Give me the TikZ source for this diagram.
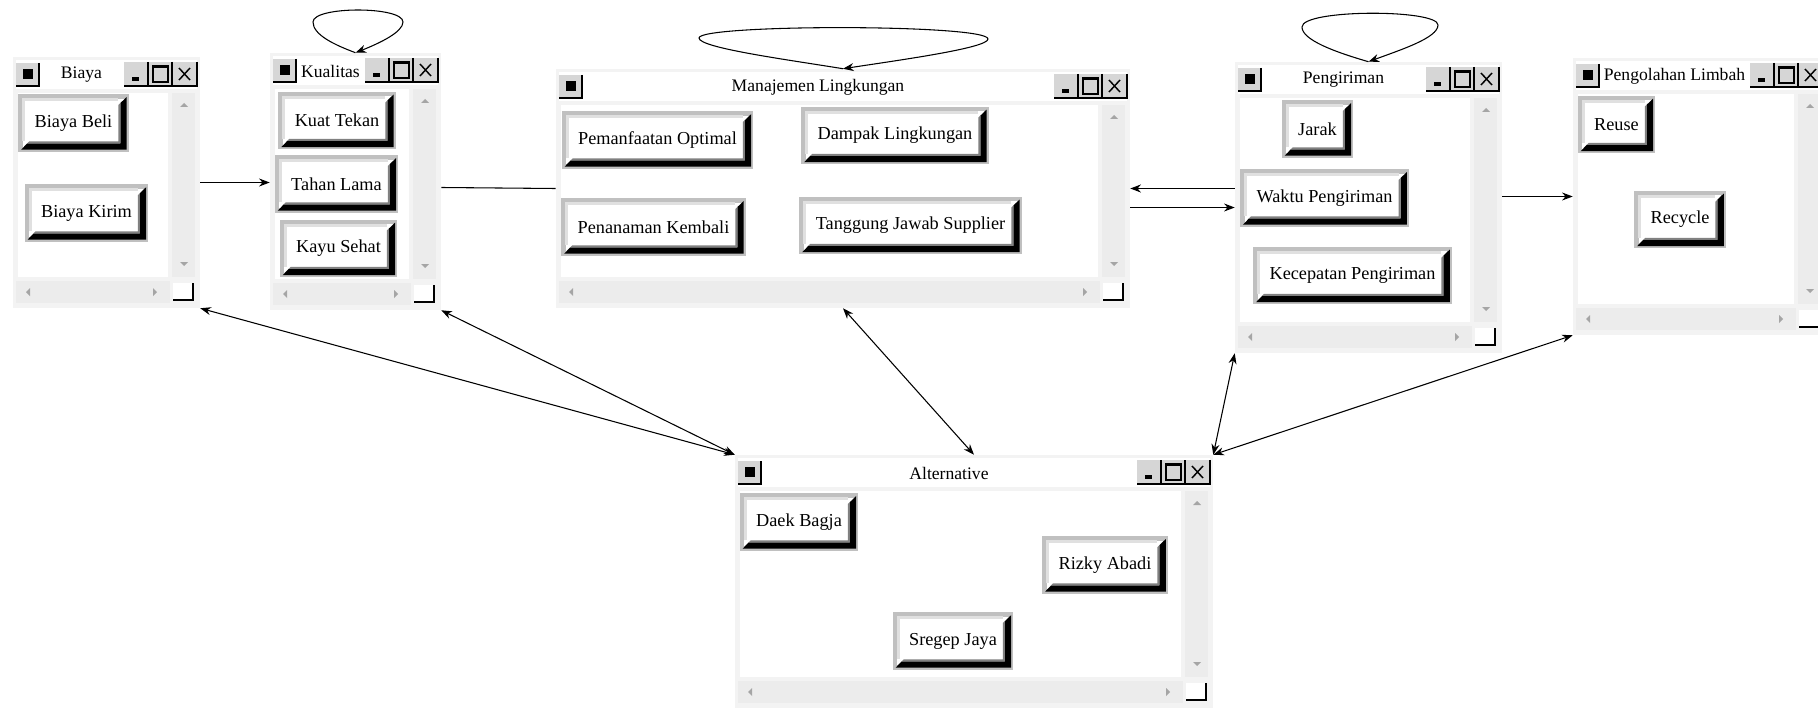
\documentclass[tikz,border=0pt]{standalone}
\usepackage{fontspec}
\setmainfont{Liberation Serif}
\usetikzlibrary{arrows.meta,calc,fit}

\definecolor{bingkai}{RGB}{243,243,243}
\definecolor{gulir}{RGB}{236,236,236}
\definecolor{segitiga}{RGB}{165,165,165}
\definecolor{tepi}{RGB}{192,192,192}
\definecolor{terang}{RGB}{224,224,224}
\definecolor{gelap}{RGB}{128,128,128}
\definecolor{abutombol}{RGB}{214,214,214}

\tikzset{
  tombol/.style={rectangle, fill=white, draw=tepi, line width=3.4pt, inner xsep=10.7pt, inner ysep=0pt, minimum height=40pt, font=\fontsize{13.7}{16}\selectfont},
  judul/.style={inner sep=0pt, font=\fontsize{13.2}{15}\selectfont},
  panah/.style={line width=0.8pt, -{Stealth[length=8pt,width=6pt]}},
  panahdua/.style={line width=0.8pt, {Stealth[length=8pt,width=6pt]}-{Stealth[length=8pt,width=6pt]}},
}

% window: name, x1, y1, x2, y2, title
\newcommand{\jendela}[6]{%
  \fill[bingkai] (#2,#3) rectangle (#4,#5);
  \fill[white] (#2+3,#3+3) rectangle (#4-3,#3+32);
  \fill[white] (#2+5,#3+36) rectangle (#4-32,#5-31);
  % scroll bars
  \fill[gulir] (#4-28,#3+36) rectangle (#4-5,#5-31);
  \fill[gulir] (#2+3,#5-27) rectangle (#4-30,#5-5);
  \fill[segitiga] (#4-20,#3+50) -- (#4-12,#3+50) -- (#4-16,#3+46) -- cycle;
  \fill[segitiga] (#4-20,#5-46) -- (#4-12,#5-46) -- (#4-16,#5-42) -- cycle;
  \fill[segitiga] (#2+17,#5-20) -- (#2+17,#5-12) -- (#2+13,#5-16) -- cycle;
  \fill[segitiga] (#4-47,#5-20) -- (#4-47,#5-12) -- (#4-43,#5-16) -- cycle;
  % size grip
  \fill[white] (#4-27,#5-25) rectangle (#4-7,#5-8);
  \draw[line width=1.1pt] (#4-7,#5-25) -- (#4-7,#5-8) -- (#4-27,#5-8);
  % system button
  \fill[abutombol] (#2+3,#3+6) rectangle (#2+26,#3+29);
  \draw[line width=1.1pt] (#2+26,#3+6) -- (#2+26,#3+29) -- (#2+3,#3+29);
  \fill (#2+10,#3+12) rectangle (#2+20,#3+22);
  % min, max, close
  \fill[abutombol] (#4-76,#3+5) rectangle (#4-3,#3+29);
  \draw[line width=1.1pt] (#4-76,#3+29) -- (#4-3,#3+29) -- (#4-3,#3+5) (#4-52,#3+5) -- (#4-52,#3+29) (#4-28,#3+5) -- (#4-28,#3+29);
  \fill (#4-68,#3+20) rectangle (#4-61,#3+24);
  \draw[line width=0.9pt] (#4-47,#3+9) rectangle (#4-32,#3+25);
  \draw[line width=1.8pt] (#4-47,#3+10) -- (#4-32,#3+10);
  \draw[line width=1.1pt] (#4-21,#3+11) -- (#4-10,#3+23) (#4-21,#3+23) -- (#4-10,#3+11);
  \node[judul] (#1-judul) at ({(#2+#4-50)/2},#3+18) {#6};
  \node[fit={(#2,#3) (#4,#5)}, inner sep=0pt] (#1) {};
}

% button: name, x, y, text
\newcommand{\tombol}[4]{%
  \node[tombol] (#1) at (#2,#3) {#4};
  \fill ($(#1.south west)+(3,-2.2)$) -- ($(#1.south east)+(-2.2,-2.2)$) -- ($(#1.north east)+(-2.2,3)$) -- ($(#1.north east)+(-8.5,9)$) -- ($(#1.south east)+(-8.5,-8.5)$) -- ($(#1.south west)+(9,-8.5)$) -- cycle;
  \fill[gelap] ($(#1.south west)+(9,-8.5)$) -- ($(#1.south east)+(-8.5,-8.5)$) -- ($(#1.north east)+(-8.5,9)$) -- ($(#1.north east)+(-10.5,11)$) -- ($(#1.south east)+(-10.5,-10.5)$) -- ($(#1.south west)+(11,-10.5)$) -- cycle;
  \draw[terang, line width=2.25pt] ($(#1.south west)+(5.5,-10.5)$) -- ($(#1.north west)+(5.5,5.5)$) -- ($(#1.north east)+(-10.5,5.5)$);
}

\begin{document}
\begin{tikzpicture}[x=0.75pt,y=0.75pt,yscale=-1,xscale=1]
\useasboundingbox (0,0) rectangle (1818,710);
\clip (0,0) rectangle (1818,710);

%Window: Biaya
\jendela{biaya}{13}{57}{200}{308}{Biaya}
\tombol{biayabeli}{73.5}{123}{Biaya Beli}
\tombol{biayakirim}{86.5}{213}{Biaya Kirim}

%Window: Kualitas
\jendela{kualitas}{270}{53}{441}{310}{Kualitas}
\tombol{kuattekan}{337}{120.5}{Kuat Tekan}
\tombol{tahanlama}{336.5}{184}{Tahan Lama}
\tombol{kayusehat}{338.5}{248.5}{Kayu Sehat}

%Window: Manajemen Lingkungan
\jendela{manajemen}{556}{69}{1130}{308}{Manajemen Lingkungan}
\tombol{pemanfaatan}{657.5}{140}{Pemanfaatan Optimal}
\tombol{dampak}{895}{135.5}{Dampak Lingkungan}
\tombol{penanaman}{653.5}{227}{Penanaman Kembali}
\tombol{tanggungjawab}{910.5}{225.5}{Tanggung Jawab Supplier}

%Window: Pengiriman
\jendela{pengiriman}{1235}{62}{1502}{353}{Pengiriman}
\tombol{jarak}{1317.5}{129}{Jarak}
\tombol{waktu}{1324.5}{198}{Waktu Pengiriman}
\tombol{kecepatan}{1352.5}{275.5}{Kecepatan Pengiriman}

%Window: Pengolahan Limbah
\jendela{pengolahan}{1573}{58}{1826}{335}{Pengolahan Limbah}
\tombol{reuse}{1616.5}{124.5}{Reuse}
\tombol{recycle}{1680}{219.5}{Recycle}

%Window: Alternative
\jendela{alternatif}{735}{455}{1213}{708}{Alternative}
\tombol{daekbagja}{799}{522}{Daek Bagja}
\tombol{rizkyabadi}{1105}{565}{Rizky Abadi}
\tombol{sregepjaya}{953}{641}{Sregep Jaya}

%Straight Lines
\draw[panah] (biaya.east) -- (kualitas.west |- biaya.east);
\draw[line width=0.8pt] (kualitas.356) -- (manajemen.west);
\draw[panah] (pengiriman.west |- manajemen.east) -- (manajemen.east);
\draw[panah] (manajemen.east |- pengiriman.west) -- (pengiriman.west);
\draw[panah] (pengiriman.east |- pengolahan.west) -- (pengolahan.west);

% to Alternative
\draw[panahdua] (biaya.south east) -- (alternatif.north west);
\draw[panahdua] (kualitas.south east) -- (alternatif.north west);
\draw[panahdua] (manajemen.south) -- (alternatif.north);
\draw[panahdua] (pengiriman.south west) -- (alternatif.north east);
\draw[panahdua] (pengolahan.south west) -- (alternatif.north east);

%Curve Lines: self loops
\draw[panah] (kualitas.north) .. controls (335,45) and (313,35) .. (313,22) .. controls (313,6) and (403,6) .. (403,22) .. controls (403,32) and (380,43) .. (kualitas.north);
\draw[panah] (manajemen.north) .. controls (790,60) and (699,48) .. (699,38) .. controls (699,24) and (988,24) .. (988,39) .. controls (988,48) and (900,60) .. (manajemen.north);
\draw[panah] (pengiriman.north) .. controls (1335,52) and (1302,40) .. (1302,27) .. controls (1302,9) and (1438,9) .. (1438,25) .. controls (1438,38) and (1400,50) .. (pengiriman.north);
\end{tikzpicture}
\end{document}
